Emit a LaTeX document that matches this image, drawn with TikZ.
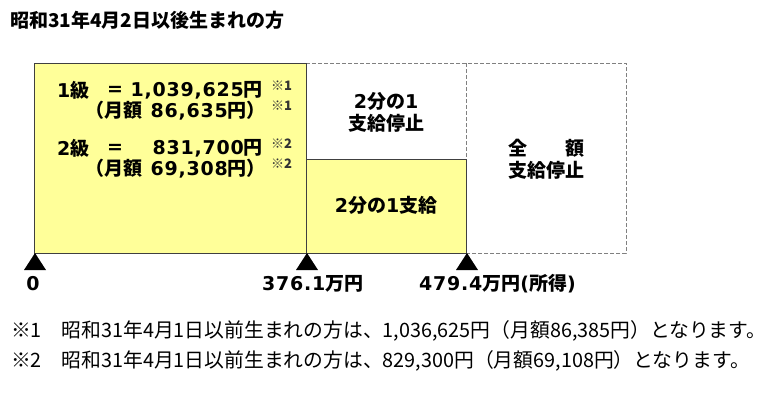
\documentclass[tikz,border=0pt]{standalone}
\usepackage{fontspec}
\setmainfont{Noto Sans CJK JP}
\newfontfamily\numfont{DejaVu Sans}[LetterSpace=4]
\newcommand\dg[1]{{\numfont #1}}
\definecolor{payyellow}{RGB}{255,255,153}
\usetikzlibrary{calc}

\begin{document}
\begin{tikzpicture}[x=1pt, y=-1pt,
    paybox/.style={fill=payyellow, draw=black!75, line width=1pt},
    stopbox/.style={draw=black!50, line width=1pt, dash pattern=on 4pt off 2pt},
    lbl/.style={font=\fontsize{19}{22}\selectfont\bfseries, inner sep=0pt},
    kome/.style={font=\fontsize{13}{15}\selectfont\bfseries, text=black!80, inner sep=0pt, anchor=west},
    note/.style={font=\fontsize{19.8}{22}\selectfont, inner sep=0pt, anchor=west}]
        \useasboundingbox (0,0) rectangle (765,397);
        \coordinate (O) at (34, 253);
        \coordinate (P) at (306, 253);
        \coordinate (Q) at (466, 253);
        \coordinate (R) at (626, 253);
        \coordinate (M) at (306, 159);

        \node[anchor=west, font=\fontsize{19}{22}\selectfont\bfseries, inner sep=0pt] (title) at (10,20) {昭和31年4月2日以後生まれの方};

        \draw[stopbox] (306,63) -- (626,63) -- (R) -- (Q);
        \draw[stopbox] (466,63) -- (466,159);
        \filldraw[paybox] (34,63) rectangle (P);
        \filldraw[paybox] (M) rectangle (Q);

        \foreach \t in {O, P, Q}
            \fill[black] ($(\t)+(1,0)$) -- ++(-11,17) -- ++(22,0) -- cycle;

        \node[lbl, anchor=west] (grade1) at (57,90.5) {\dg{1}級};
        \node[lbl] (eq1) at (115,90.5) {\dg{=}};
        \node[lbl, anchor=east] (year1) at (263,90.5) {\dg{1,039,625}円};
        \node[kome] (k1a) at (271,86) {※1};
        \node[lbl, anchor=east] (month1) at (266,111) {（月額\hspace{8pt}\dg{86,635}円）};
        \node[kome] (k1b) at (271,106) {※1};

        \node[lbl, anchor=west] (grade2) at (57,148.5) {\dg{2}級};
        \node[lbl] (eq2) at (115,148.5) {\dg{=}};
        \node[lbl, anchor=east] (year2) at (263,148.5) {\dg{831,700}円};
        \node[kome] (k2a) at (271,144) {※2};
        \node[lbl, anchor=east] (month2) at (266,169) {（月額\hspace{8pt}\dg{69,308}円）};
        \node[kome] (k2b) at (271,164) {※2};

        \node[lbl, align=center] (halfstop) at (386,112) {\dg{2}分の\dg{1}\\支給停止};
        \node[lbl] (halfpay) at (386,205) {\dg{2}分の\dg{1}支給};
        \node[lbl, align=center] (fullstop) at (546,159) {全　　額\\支給停止};

        \node[lbl] (z0) at (33,284) {\dg{0}};
        \node[lbl, anchor=west] (z1) at (262,284) {\dg{376.1}万円};
        \node[lbl, anchor=west] (z2) at (419,284) {\dg{479.4}万円\dg{(}所得\dg{)}};

        \node[note] (fn1) at (11,331) {※1　昭和31年4月1日以前生まれの方は、1,036,625円（月額86,385円）となります。};
        \node[note] (fn2) at (11,361) {※2　昭和31年4月1日以前生まれの方は、829,300円（月額69,108円）となります。};
    \end{tikzpicture}
\end{document}
